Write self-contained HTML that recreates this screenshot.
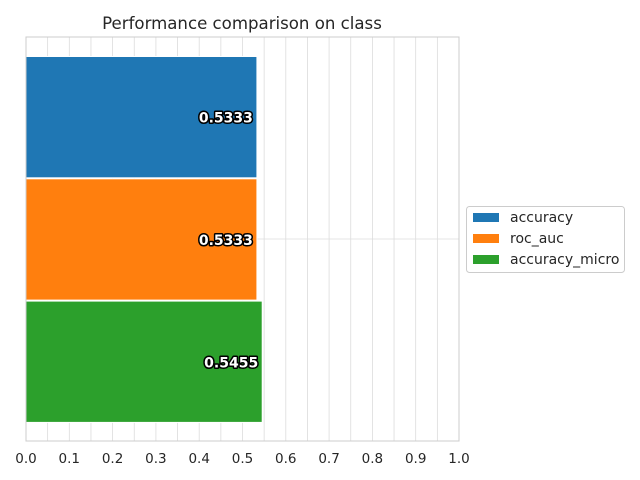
<!DOCTYPE html>
<html><head><meta charset="utf-8"><style>body{margin:0;background:#fff}svg{display:block;font-family:"DejaVu Sans","Liberation Sans",sans-serif}</style></head>
<body>
<svg id="c" width="640" height="480" xmlns="http://www.w3.org/2000/svg"></svg>
<script>
const categories = ["accuracy","roc_auc","accuracy_micro"];
const values = [0.5333,0.5333,0.5455];
const labels = ["0.5333","0.5333","0.5455"];
const colors = ["#1f77b4","#ff7f0e","#2ca02c"];
const xTicks = [0,0.1,0.2,0.3,0.4,0.5,0.6,0.7,0.8,0.9,1.0];
const minorGrid = [0.05,0.15,0.25,0.35,0.45,0.55,0.65,0.75,0.85,0.95];
const svg = document.getElementById('c');
const NS = "http://www.w3.org/2000/svg";
const L=26,R=459,T=37,B=441;
const x = v => L + v*(R-L);
const barTop = 56.5, barH = 122.3;
const yBar = i => barTop + i*barH;
function mk(tag, attrs, parent){const e=document.createElementNS(NS,tag);for(const k in attrs)e.setAttribute(k,attrs[k]);(parent||svg).appendChild(e);return e;}
const grid = mk('g',{});


xTicks.concat(minorGrid).forEach(v=>{mk('line',{x1:x(v),x2:x(v),y1:T,y2:B,stroke:'#dcdcdc','stroke-width':0.8},grid);});
mk('line',{x1:L,x2:R,y1:(T+B)/2,y2:(T+B)/2,stroke:'#dcdcdc','stroke-width':0.8},grid);
values.forEach((v,i)=>{
  const r = mk('rect',{x:x(0),y:yBar(i),width:x(v)-x(0),height:barH-1,fill:colors[i],stroke:'#fff','stroke-width':1});
  
  
  const t = mk('text',{x:x(v)-4,y:yBar(i)+barH/2+5,'text-anchor':'end','font-size':14,'font-weight':'bold',fill:'#fff',stroke:'#000','stroke-width':3,'paint-order':'stroke','stroke-linejoin':'round'});
  t.textContent = labels[i];
  
  
});
const frame = mk('rect',{x:L,y:T,width:R-L,height:B-T,fill:'none',stroke:'#cccccc','stroke-width':1});


xTicks.forEach(v=>{
  const t = mk('text',{x:x(v),y:463,'text-anchor':'middle','font-size':13.5,fill:'#262626'});
  t.textContent = v.toFixed(1);
  
  
});
const title = mk('text',{x:(L+R)/2-0.5,y:29,'text-anchor':'middle','font-size':16.6,fill:'#262626'});
title.textContent = 'Performance comparison on class';


const lg = mk('g',{});


mk('rect',{x:466.5,y:206.5,width:158,height:66,rx:3,fill:'#fff',stroke:'#cccccc','stroke-width':1},lg);
categories.forEach((c,i)=>{
  const e = mk('g',{},lg);
  
  
  mk('rect',{x:473,y:213+i*21,width:26,height:9,fill:colors[i]},e);
  const t = mk('text',{x:510,y:222+i*21,'font-size':14,fill:'#262626'},e);
  t.textContent = c;
});
</script>
</body></html>
